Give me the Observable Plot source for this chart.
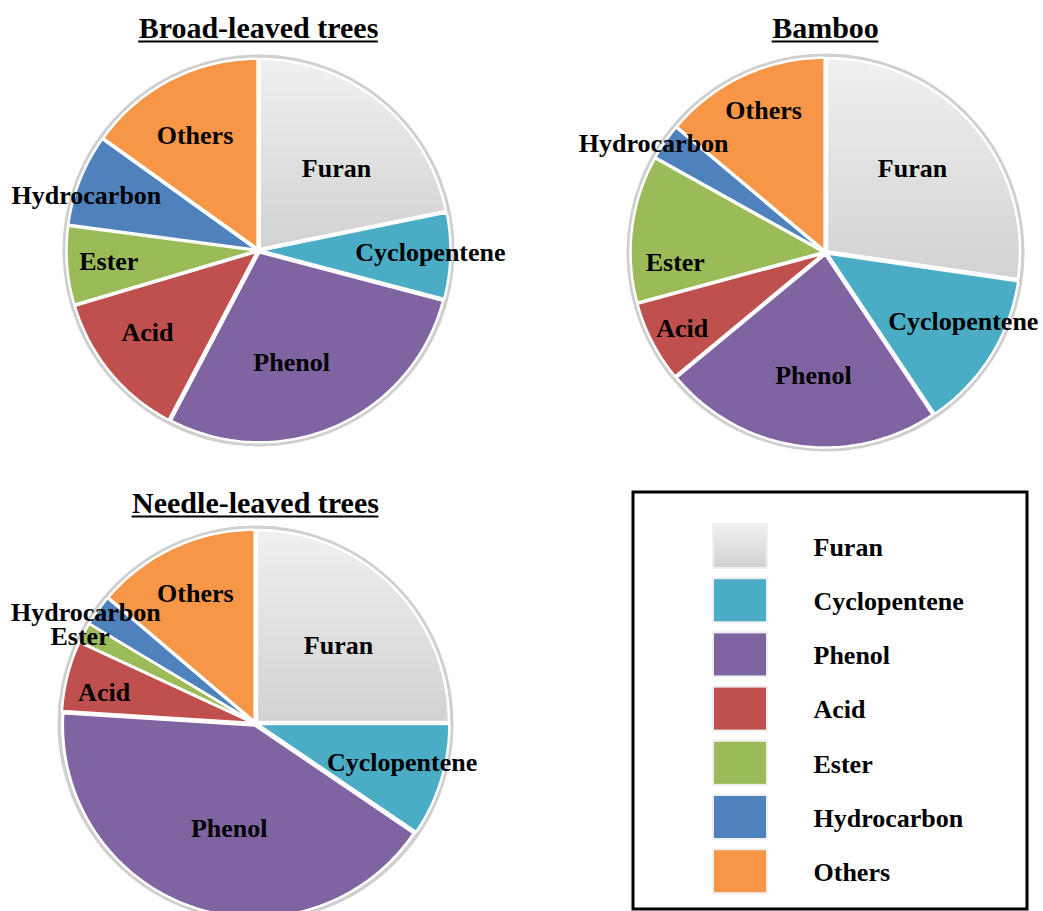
<!DOCTYPE html>
<html>
<head>
<meta charset="utf-8">
<script src="https://cdn.jsdelivr.net/npm/d3@7"></script>
<script src="https://cdn.jsdelivr.net/npm/@observablehq/plot@0.6"></script>
<style>
  body { margin: 0; background: #fff; }
  #chart svg { display: block; }
</style>
</head>
<body>
<div id="chart"></div>
<script>
// ---- data ----
const categories = ["Furan", "Cyclopentene", "Phenol", "Acid", "Ester", "Hydrocarbon", "Others"];
const broadLeaved = [21.8, 7.3, 28.6, 12.7, 6.7, 7.8, 15.1];
const bamboo = [27.3, 13.3, 23.4, 6.8, 12.3, 3.0, 13.9];
const needleLeaved = [25.0, 9.5, 41.5, 5.9, 1.7, 2.6, 13.8];
const pieTitles = ["Broad-leaved trees", "Bamboo", "Needle-leaved trees"];
const sliceColors = ["url(#furanGrad)", "#4BACC6", "#8064A2", "#C0504D", "#9BBB59", "#4F81BD", "#F79646"];

// ---- layout ----
const W = 1043, H = 911;
// label placement: radial fraction and angular shift (degrees) from slice mid-angle
const pieLayout = [
  {title: pieTitles[0], values: broadLeaved, cx: 258, cy: 250, r: 190, titleY: 28,
   labelR: [0.595, 0.905, 0.615, 0.726, 0.79, 0.95, 0.69],
   labelShift: [4.4, -0.9, 7.3, 3, 0.4, -4, -1.8]},
  {title: pieTitles[1], values: bamboo, cx: 825, cy: 252, r: 193, titleY: 28,
   labelR: [0.627, 0.80, 0.64, 0.84, 0.78, 1.055, 0.80],
   labelShift: [-3.2, -5.4, -2.7, -0.5, -10.8, -2.1, 1.4]},
  {title: pieTitles[2], values: needleLeaved, cx: 255, cy: 723, r: 192, titleY: 503,
   labelR: [0.593, 0.79, 0.565, 0.805, 1.02, 1.055, 0.746],
   labelShift: [1.8, -2.2, -4.9, -2.6, -1.5, -2.5, 0]}
];
const explode = 2;
const legend = {x1: 633, x2: 1027, y1: 492, y2: 909, swX1: 713, swX2: 767, y0: 546, step: 54.2, sw: 44, textX: 813};
const labelFont = "Liberation Serif, Times New Roman, serif";

// ---- build slice polygons from the data ----
const slicePts = [], sliceLabels = [];
for (const p of pieLayout) {
  const arcs = d3.pie().sort(null).value(d => d.value)(
    categories.map((c, i) => ({category: c, value: p.values[i]}))
  );
  arcs.forEach((a, i) => {
    const mid = (a.startAngle + a.endAngle) / 2;
    const ox = p.cx + explode * Math.sin(mid), oy = p.cy - explode * Math.cos(mid);
    const key = p.title + "|" + a.data.category;
    const category = a.data.category;
    slicePts.push({key, category, x: ox, y: oy});
    const n = Math.max(2, Math.ceil((a.endAngle - a.startAngle) / (Math.PI / 180)));
    for (let k = 0; k <= n; k++) {
      const t = a.startAngle + (a.endAngle - a.startAngle) * k / n;
      slicePts.push({key, category, x: ox + p.r * Math.sin(t), y: oy - p.r * Math.cos(t)});
    }
    const la = mid + p.labelShift[i] * Math.PI / 180;
    sliceLabels.push({
      category,
      x: p.cx + p.labelR[i] * p.r * Math.sin(la),
      y: p.cy - p.labelR[i] * p.r * Math.cos(la)
    });
  });
}

// measure titles for the underline
const ctx = document.createElement("canvas").getContext("2d");
ctx.font = "bold 30px 'Liberation Serif'";
const titleRows = pieLayout.map(p => {
  const w = ctx.measureText(p.title).width;
  return {...p, ux1: p.cx - w / 2, ux2: p.cx + w / 2, uy: p.titleY + 13};
});

const font = {fontFamily: labelFont, fontWeight: "bold"};

const plot = Plot.plot({
  width: W,
  height: H,
  margin: 0,
  x: {domain: [0, W], range: [0, W], axis: null},
  y: {domain: [0, H], range: [0, H], axis: null},
  r: {type: "identity"},
  color: {type: "ordinal", domain: categories, range: sliceColors},
  marks: [
    // soft outer shadow ring
    Plot.dot(pieLayout, {x: "cx", y: "cy", r: d => d.r + 4, fill: "none", stroke: "#cfcfcf", strokeWidth: 4}),
    Plot.dot(pieLayout, {x: "cx", y: "cy", r: d => d.r + 1.5, fill: "none", stroke: "#fff", strokeWidth: 2}),
    // slices
    Plot.line(slicePts, {x: "x", y: "y", z: "key", fill: "category", stroke: "white", strokeWidth: 2.5,
      curve: "linear-closed", strokeLinejoin: "miter"}),
    // slice labels
    Plot.text(sliceLabels, {x: "x", y: "y", text: "category", fontSize: 26, fill: "#000", ...font}),
    // titles, underlined
    Plot.text(titleRows, {x: "cx", y: "titleY", text: "title", fontSize: 30, fill: "#000", ...font}),
    Plot.ruleY(titleRows, {y: "uy", x1: "ux1", x2: "ux2", stroke: "#000", strokeWidth: 2}),
    // legend box
    Plot.rect([legend], {x1: "x1", x2: "x2", y1: "y1", y2: "y2", fill: "white", stroke: "#000", strokeWidth: 3}),
    Plot.rect(categories, {
      x1: legend.swX1, x2: legend.swX2,
      y1: (d, i) => legend.y0 + i * legend.step - legend.sw / 2,
      y2: (d, i) => legend.y0 + i * legend.step + legend.sw / 2,
      fill: d => d, stroke: "#f0f0f0", strokeWidth: 2
    }),
    Plot.text(categories, {
      x: legend.textX, y: (d, i) => legend.y0 + i * legend.step + 1, text: d => d,
      textAnchor: "start", fontSize: 26, fill: "#000", ...font
    })
  ]
});

document.getElementById("chart").appendChild(plot);

// gradient for the Furan slices and swatch
const svg = d3.select(plot);
const defs = svg.insert("defs", ":first-child");
const grad = defs.append("linearGradient").attr("id", "furanGrad")
  .attr("x1", 0).attr("y1", 0).attr("x2", 0).attr("y2", 1);
grad.append("stop").attr("offset", "0%").attr("stop-color", "#f0f0f0");
grad.append("stop").attr("offset", "100%").attr("stop-color", "#d2d2d2");
</script>
</body>
</html>
